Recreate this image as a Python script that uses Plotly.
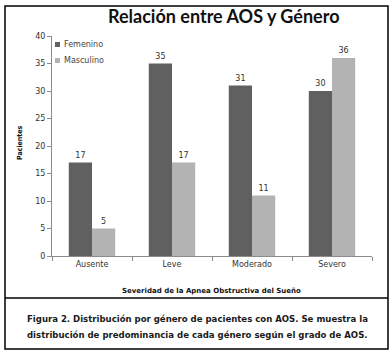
import plotly.graph_objects as go

categories = ["Ausente", "Leve", "Moderado", "Severo"]
femenino = [17, 35, 31, 30]
masculino = [5, 17, 11, 36]
y_ticks = [0, 5, 10, 15, 20, 25, 30, 35, 40]
series_names = ["Femenino", "Masculino"]
series_colors = ["#606060", "#b3b3b3"]

W, H = 392, 354
L, R, T, B = 52, 20, 36, 98
PW, PH = W - L - R, H - T - B

def px(x):
    return (x - L) / PW

def py(y):
    return (H - B - y) / PH

lab_font = dict(family="DejaVu Sans", size=8, color="#333333")

fig = go.Figure()
for name, vals, col in zip(series_names, [femenino, masculino], series_colors):
    fig.add_trace(go.Bar(x=categories, y=vals, name=name,
                         marker=dict(color=col, line=dict(width=0)),
                         text=vals, textposition="outside", textfont=lab_font,
                         cliponaxis=False, showlegend=False, hoverinfo="skip"))

annotations = [
    dict(text="<b>Relación entre AOS y Género</b>", x=px(223), y=py(16),
         xanchor="center", yanchor="middle",
         font=dict(family="Lato", size=18, color="#111111")),
    dict(text="<b>Pacientes</b>", x=px(20), y=py(143), textangle=-90,
         xanchor="center", yanchor="middle",
         font=dict(family="DejaVu Sans Condensed", size=7, color="#111111")),
    dict(text="<b>Severidad de la Apnea Obstructiva del Sueño</b>",
         x=px(211), y=py(291), xanchor="center", yanchor="middle",
         font=dict(family="DejaVu Sans", size=7, color="#111111")),
    dict(text="<b>Figura 2. Distribución por género de pacientes con AOS. Se muestra la</b>",
         x=px(197), y=py(318), xanchor="center", yanchor="middle",
         font=dict(family="DejaVu Sans Condensed", size=9.5, color="#1a1a1a")),
    dict(text="<b>distribución de predominancia de cada género según el grado de AOS.</b>",
         x=px(197), y=py(334), xanchor="center", yanchor="middle",
         font=dict(family="DejaVu Sans Condensed", size=9.5, color="#1a1a1a")),
]
shapes = [
    dict(type="rect", x0=px(5), x1=px(388), y0=py(349), y1=py(6),
         line=dict(color="black", width=1.5)),
    dict(type="line", x0=px(5), x1=px(388), y0=py(298), y1=py(298),
         line=dict(color="black", width=1.5)),
]
# manual legend (small squares, Excel style)
for i, (name, col) in enumerate(zip(series_names, series_colors)):
    cy = 44.5 + 16 * i
    shapes.append(dict(type="rect", x0=px(55), x1=px(60), y0=py(cy + 2.5), y1=py(cy - 2.5),
                       fillcolor=col, line=dict(width=0)))
    annotations.append(dict(text=name, x=px(62), y=py(cy), xanchor="left", yanchor="middle",
                            font=dict(family="DejaVu Sans", size=8, color="#444444")))

for a in annotations:
    a.update(xref="paper", yref="paper", showarrow=False)
for s in shapes:
    s.update(xref="paper", yref="paper")

fig.update_layout(
    width=W, height=H,
    margin=dict(l=L, r=R, t=T, b=B, autoexpand=False),
    paper_bgcolor="white", plot_bgcolor="white",
    barmode="group", bargap=0.42, bargroupgap=0,
    showlegend=False,
    xaxis=dict(showline=True, linecolor="#8c8c8c", linewidth=1,
               ticks="outside", ticklen=4, tickcolor="#8c8c8c",
               tickson="boundaries", showgrid=False,
               tickfont=dict(family="DejaVu Sans", size=8, color="#333333")),
    yaxis=dict(range=[0, 40], tickvals=y_ticks, showline=True,
               linecolor="#8c8c8c", linewidth=1, ticks="outside", ticklen=4,
               tickcolor="#8c8c8c", showgrid=False, zeroline=False,
               tickfont=dict(family="DejaVu Sans", size=8, color="#333333")),
    annotations=annotations,
    shapes=shapes,
)

fig.write_html("out.html", config={"displayModeBar": False},
               post_script="document.body.style.margin='0';document.body.style.overflow='hidden';")
